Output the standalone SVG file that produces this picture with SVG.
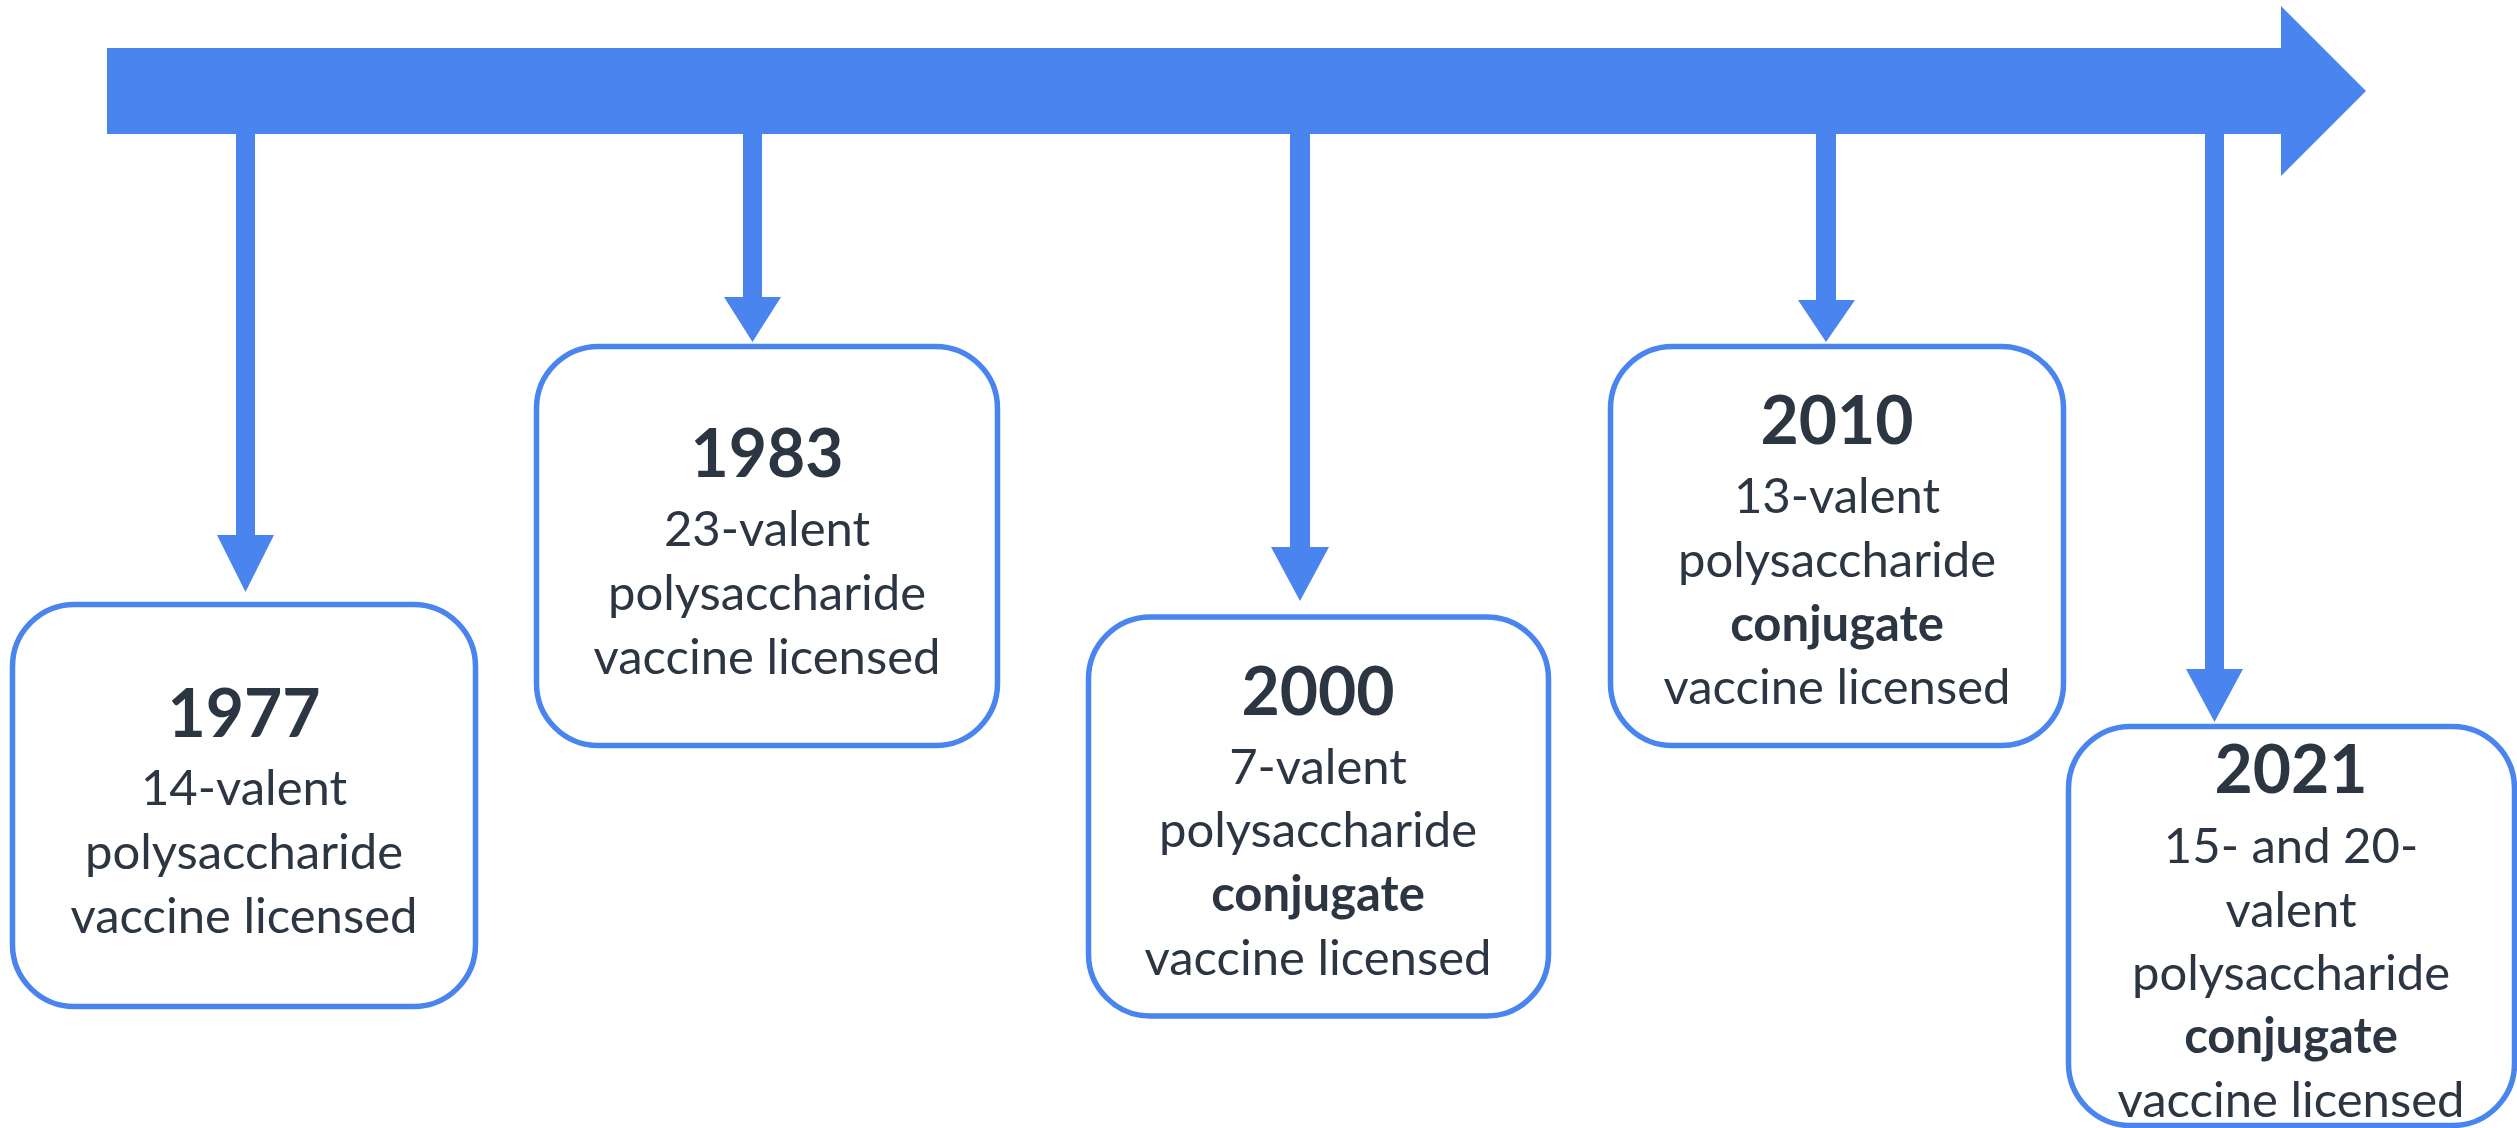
<svg xmlns="http://www.w3.org/2000/svg" width="2517" height="1128" viewBox="0 0 2517 1128">
<style>
.bg{fill:#ffffff}
.bar{fill:#4A84EE}
.box{fill:#ffffff;stroke:#4A84EE;stroke-width:5.5}
.yr{font-family:Lato,"Open Sans","Liberation Sans",sans-serif;font-weight:bold;font-size:66px;fill:#2C3643;text-anchor:middle}
.t{font-family:Lato,"Open Sans","Liberation Sans",sans-serif;font-size:49px;fill:#2C3643;text-anchor:middle}
.b{font-weight:bold}
</style>
<rect class="bg" x="0" y="0" width="2517" height="1128"/>
<g id="connectors">
  <polygon id="timeline" class="bar" points="107,48 2281,48 2281,6 2366,91 2281,176 2281,134 107,134"/>
  <polygon class="bar" points="236,130 255,130 255,535 274,535 245.5,592 217,535 236,535"/>
  <polygon class="bar" points="743,130 762,130 762,297 781,297 752.5,342 724,297 743,297"/>
  <polygon class="bar" points="1290,130 1310,130 1310,547 1329,547 1300,601 1271,547 1290,547"/>
  <polygon class="bar" points="1816,130 1836,130 1836,300 1855,300 1826,342 1798,300 1816,300"/>
  <polygon class="bar" points="2205,130 2224,130 2224,669 2243,669 2214.5,722 2186,669 2205,669"/>
</g>
<g id="n1977">
  <rect class="box" x="12.5" y="604.5" width="463" height="402" rx="62" ry="62"/>
  <text class="yr" x="244" y="737">1977</text>
  <text class="t" x="244" y="805">14-valent</text>
  <text class="t" x="244" y="869">polysaccharide</text>
  <text class="t" x="244" y="933">vaccine licensed</text>
</g>
<g id="n1983">
  <rect class="box" x="536.5" y="346.5" width="461" height="399" rx="62" ry="62"/>
  <text class="yr" x="767" y="477">1983</text>
  <text class="t" x="767" y="546">23-valent</text>
  <text class="t" x="767" y="610">polysaccharide</text>
  <text class="t" x="767" y="674">vaccine licensed</text>
</g>
<g id="n2000">
  <rect class="box" x="1088.5" y="617" width="460" height="399" rx="62" ry="62"/>
  <text class="yr" x="1318" y="715">2000</text>
  <text class="t" x="1318" y="784">7-valent</text>
  <text class="t" x="1318" y="847">polysaccharide</text>
  <text class="t b" x="1318" y="911">conjugate</text>
  <text class="t" x="1318" y="975">vaccine licensed</text>
</g>
<g id="n2010">
  <rect class="box" x="1610.5" y="346.5" width="453" height="399" rx="62" ry="62"/>
  <text class="yr" x="1837" y="444">2010</text>
  <text class="t" x="1837" y="513">13-valent</text>
  <text class="t" x="1837" y="577">polysaccharide</text>
  <text class="t b" x="1837" y="641">conjugate</text>
  <text class="t" x="1837" y="704">vaccine licensed</text>
</g>
<g id="n2021">
  <rect class="box" x="2068.5" y="726.5" width="446" height="399" rx="62" ry="62"/>
  <text class="yr" x="2291" y="793">2021</text>
  <text class="t" x="2291" y="863">15- and 20-</text>
  <text class="t" x="2291" y="927">valent</text>
  <text class="t" x="2291" y="990">polysaccharide</text>
  <text class="t b" x="2291" y="1053">conjugate</text>
  <text class="t" x="2291" y="1117">vaccine licensed</text>
</g>
</svg>
